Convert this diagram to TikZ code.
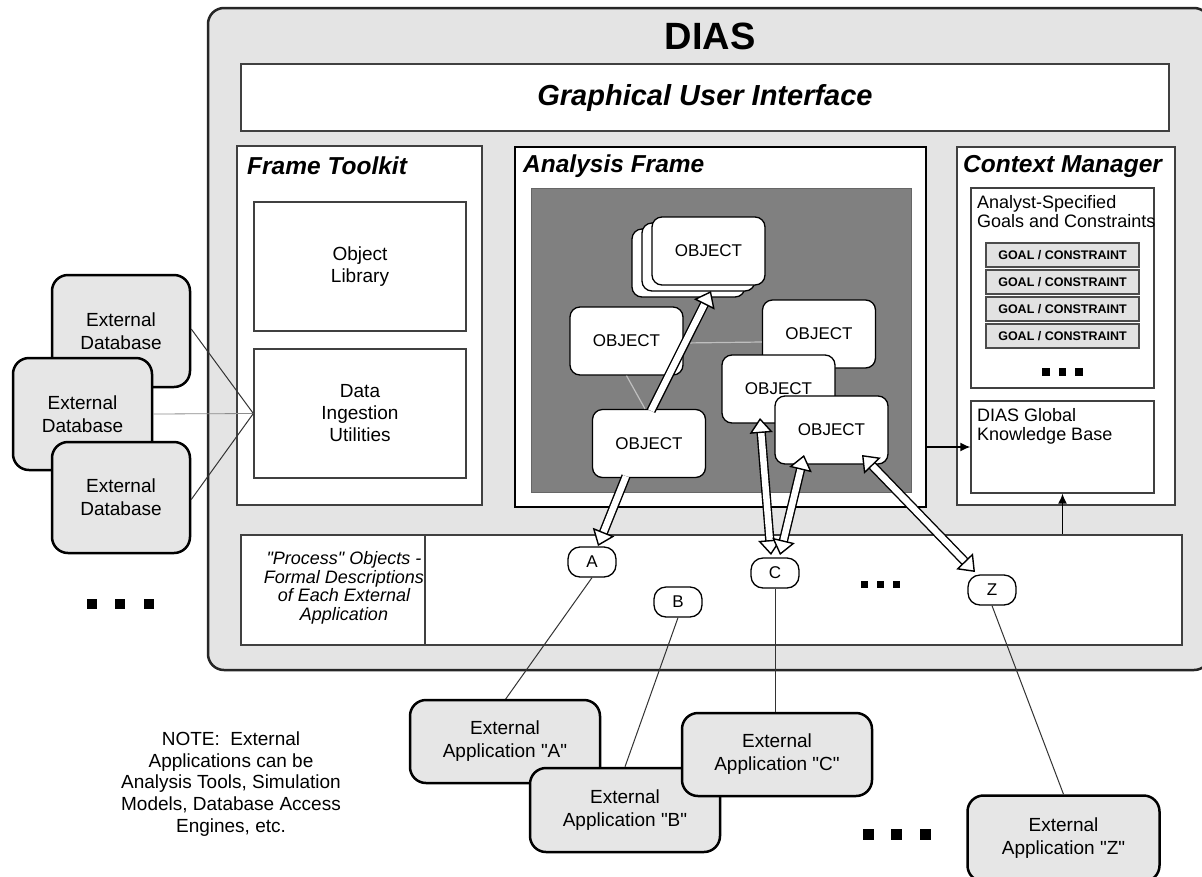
\documentclass[tikz,border=0pt]{standalone}
\usepackage{fontspec}
\setmainfont{Liberation Sans}[Ligatures=TeXOff]
\usetikzlibrary{arrows.meta,calc}
\definecolor{panelgray}{HTML}{E4E4E4}
\definecolor{extgray}{HTML}{E6E6E6}
\definecolor{darkpanel}{HTML}{808080}
\definecolor{goalgray}{HTML}{E2E2E2}
\newcommand\dq{\symbol{34}}
\newcommand\fatarr[2]{%
  \draw[fatshaft] (#1) -- ($(#2)!13pt!(#1)$);
  \path[fattip] ($(#2)!18pt!(#1)$) -- (#2);
}
\newcommand\fatdbl[2]{%
  \draw[fatshaft] ($(#1)!13pt!(#2)$) -- ($(#2)!13pt!(#1)$);
  \path[fattip] ($(#2)!18pt!(#1)$) -- (#2);
  \path[fattip] ($(#1)!18pt!(#2)$) -- (#1);
}
\begin{document}
\begin{tikzpicture}[x=1pt,y=-1pt,
  every node/.style={inner sep=0pt, align=center},
  diasbox/.style={draw=black!85, line width=2.5pt, fill=panelgray, rounded corners=16pt},
  panel/.style={draw=black!75, line width=1.3pt, fill=white},
  sectitle/.style={anchor=west, font=\fontsize{24.5}{26}\selectfont\bfseries\itshape},
  obj/.style={draw=black, line width=1.3pt, fill=white, rounded corners=10pt,
    minimum width=113pt, minimum height=68pt, font=\fontsize{17}{19}\selectfont},
  goalbox/.style={draw=black!70, line width=1.3pt, fill=goalgray,
    minimum width=153pt, minimum height=24pt, font=\fontsize{12.5}{14}\selectfont\bfseries},
  extbox/.style={draw=black, line width=2.5pt, fill=extgray, rounded corners=16pt,
    font=\fontsize{19}{23}\selectfont},
  letter/.style={draw=black, line width=1.3pt, fill=white, rounded corners=12pt,
    minimum width=48pt, minimum height=30pt, font=\fontsize{17}{19}\selectfont},
  thinline/.style={draw=black!80, line width=1pt},
  objlink/.style={draw=black!25, line width=1.2pt},
  fatshaft/.style={draw=black, line width=1.4pt, double=white, double distance=6.5pt},
  fattip/.style={draw=white, line width=1.4pt,
    -{Triangle[width=23pt,length=15pt,color=black,fill=white]}},
  smallarrow/.style={draw=black, line width=1.5pt, -{Latex[length=10pt,width=9pt]}},
  dot/.style={fill=black, minimum width=#1, minimum height=#1}
]
\useasboundingbox (0,0) rectangle (1202,876);
\fill[white] (0,0) rectangle (1202,876);

% DIAS outer box
\node[diasbox, minimum width=1002pt, minimum height=662pt] (dias) at (709,339) {};
\node[font=\fontsize{38}{40}\selectfont\bfseries] (diastitle) at (710,36) {DIAS};

% GUI
\node[panel, minimum width=928pt, minimum height=67pt,
  font=\fontsize{29}{31}\selectfont\bfseries\itshape] (gui) at (705,97.5) {Graphical User Interface};

% Frame toolkit
\node[panel, minimum width=245pt, minimum height=359pt] (ft) at (359.5,325.5) {};
\node[sectitle] (fttitle) at (247,166) {Frame Toolkit};
\node[panel, minimum width=212pt, minimum height=129pt,
  font=\fontsize{19}{22}\selectfont] (objlib) at (360,266.5) {Object\\Library};
\node[panel, minimum width=212pt, minimum height=129pt,
  font=\fontsize{19}{22}\selectfont] (ingest) at (360,413.5) {Data\\Ingestion\\Utilities};

% Analysis frame
\node[draw=black, line width=2.8pt, fill=white, minimum width=411pt, minimum height=360pt] (af) at (720.5,327) {};
\node[sectitle] (aftitle) at (523,166) {Analysis Frame};
\node[draw=black!60, line width=1pt, fill=darkpanel, minimum width=380pt, minimum height=304pt] (afin) at (721,340) {};

% objects
\node[obj] (objS2) at (688.5,263) {};
\node[obj] (objS1) at (698.5,257) {};
\node[obj] (objS) at (708.5,251) {OBJECT};
\node[obj] (objL) at (626.5,341) {OBJECT};
\node[obj] (objR) at (819,334) {OBJECT};
\node[obj] (objB) at (649,443.5) {OBJECT};
\draw[objlink] ([yshift=-2pt]objL.east) -- ([yshift=-8pt]objR.west);
\draw[objlink] (objL.south) -- ([xshift=-4pt]objB.north);
\node[obj] (objM) at (778.5,389) {OBJECT};
\node[obj] (objF) at (831.5,430) {OBJECT};

% Context manager
\node[panel, minimum width=218pt, minimum height=358pt] (cm) at (1066,326) {};
\node[sectitle] (cmtitle) at (963,166) {Context Manager};
\node[panel, minimum width=183pt, minimum height=200pt] (goals) at (1062.5,288) {};
\node[anchor=north west, align=left, font=\fontsize{18}{19}\selectfont] (goalstext) at (977,195)
  {Analyst-Specified\\Goals and Constraints};
\node[goalbox] (g1) at (1062.5,255) {GOAL / CONSTRAINT};
\node[goalbox] (g2) at (1062.5,282) {GOAL / CONSTRAINT};
\node[goalbox] (g3) at (1062.5,309) {GOAL / CONSTRAINT};
\node[goalbox] (g4) at (1062.5,336) {GOAL / CONSTRAINT};
\node[dot=7.5pt] (cd1) at (1046,372) {};
\node[dot=7.5pt] (cd2) at (1062.5,372) {};
\node[dot=7.5pt] (cd3) at (1079,372) {};
\node[panel, minimum width=183pt, minimum height=92pt] (kb) at (1062.5,447) {};
\node[anchor=north west, align=left, font=\fontsize{18}{19}\selectfont] (kbtext) at (977,408)
  {DIAS Global\\Knowledge Base};

% Process bar
\node[panel, minimum width=941pt, minimum height=110pt] (proc) at (711.5,590) {};
\node[panel, minimum width=184pt, minimum height=110pt] (procbox) at (333,590) {};
\node[font=\fontsize{18}{18.6}\selectfont\itshape] (proctext) at (344,588)
  {\dq Process\dq\ Objects -\\Formal Descriptions\\of Each External\\Application};
\node[dot=7pt] (pd1) at (864,584) {};
\node[dot=7pt] (pd2) at (880,584) {};
\node[dot=7pt] (pd3) at (896,584) {};

% arrows into knowledge base
\draw[smallarrow] (af.east |- kb.west) -- (kb.west);
\draw[smallarrow] (proc.north -| kb.south) -- (kb.south);

% letter nodes
\node[letter] (A) at (592,562) {A};
\node[letter] (B) at (678,602) {B};
\node[letter] (C) at (775,573) {C};
\node[letter] (Z) at (992,590) {Z};

% external databases
\node[extbox, minimum width=138pt, minimum height=112pt] (db1) at (121,331) {External\\Database};
\node[extbox, minimum width=139pt, minimum height=112pt] (db2) at (82.5,414) {External\\Database};
\node[extbox, minimum width=138pt, minimum height=111pt] (db3) at (121,497.5) {External\\Database};
\draw[thinline] ([yshift=2pt]db1.east) -- (ingest.west);
\draw[draw=black!45, line width=0.8pt] (db2.east) -- (ingest.west);
\draw[thinline] ([yshift=-2pt]db3.east) -- (ingest.west);
\node[dot=10.5pt] (ld1) at (92,604) {};
\node[dot=10.5pt] (ld2) at (120,604) {};
\node[dot=10.5pt] (ld3) at (149,604) {};

% fat arrows
\coordinate (sb) at ($(objB.north)+(2,2)$);
\coordinate (st) at (711,291);
\fatarr{sb}{st}
\coordinate (ba) at ($(objB.south)+(-23,-2)$);
\coordinate (at) at (598,546);
\fatarr{ba}{at}
\coordinate (mt) at (760,418);
\coordinate (c1) at (771,555);
\fatdbl{mt}{c1}
\coordinate (ft1) at (804,455);
\coordinate (c2) at (780,555);
\fatdbl{ft1}{c2}
\coordinate (ft2) at (862,455);
\coordinate (zt) at (975,572);
\fatdbl{ft2}{zt}

% external applications
\draw[thinline] (A.south) -- (505,700);
\node[extbox, minimum width=190pt, minimum height=83pt] (appA) at (505,741.5) {External\\Application \dq A\dq};
\node[extbox, minimum width=190pt, minimum height=84pt] (appB) at (625,810) {External\\Application \dq B\dq};
\node[extbox, minimum width=190pt, minimum height=83pt] (appC) at (777,754.5) {External\\Application \dq C\dq};
\node[extbox, minimum width=192pt, minimum height=86pt] (appZ) at (1063.5,838.5) {External\\Application \dq Z\dq};
\draw[thinline] (B.south) -- (appB.north);
\draw[thinline] (C.south) -- (C.south |- appC.north);
\draw[thinline] (Z.south) -- (appZ.north);
\node[dot=11pt] (bd1) at (868,834) {};
\node[dot=11pt] (bd2) at (896,834) {};
\node[dot=11pt] (bd3) at (925,834) {};

% note
\node[font=\fontsize{19}{21.8}\selectfont] (note) at (231,784)
  {NOTE:\ \ External\\Applications can be\\Analysis Tools, Simulation\\Models, Database Access\\Engines, etc.};
\end{tikzpicture}
\end{document}
